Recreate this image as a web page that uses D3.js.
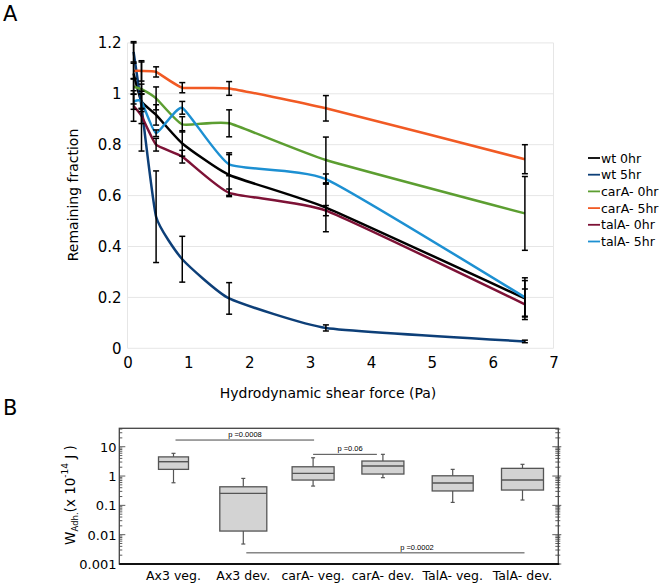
<!DOCTYPE html>
<html><head><meta charset="utf-8">
<script src="https://cdn.jsdelivr.net/npm/d3@7"></script>
<style>
html,body{margin:0;padding:0;background:#fff;}
svg{display:block;font-family:"DejaVu Sans",sans-serif;}
</style></head>
<body><svg id="c" width="672" height="586"></svg>
<script>
// ---------- Panel A data ----------
const shearForce = [0.1, 0.23, 0.47, 0.9, 1.67, 3.26, 6.53];
const seriesNames = ["wt 0hr", "wt 5hr", "carA- 0hr", "carA- 5hr", "talA- 0hr", "talA- 5hr"];
const wt0 = [1.08, 0.97, 0.917, 0.805, 0.681, 0.553, 0.196];
const wt5 = [1.165, 0.95, 0.517, 0.35, 0.196, 0.08, 0.027];
const carA0 = [1.028, 1.018, 0.982, 0.88, 0.884, 0.74, 0.53];
const carA5 = [1.09, 1.09, 1.086, 1.024, 1.021, 0.943, 0.743];
const talA0 = [0.952, 0.913, 0.80, 0.753, 0.611, 0.541, 0.173];
const talA5 = [0.969, 0.97, 0.845, 0.945, 0.723, 0.665, 0.20];
const wt0Err = [0.12, 0.03, 0.04, 0.05, 0.08, 0.095, 0.07];
const wt5Err = [0.04, 0.175, 0.18, 0.09, 0.062, 0.012, 0.005];
const carA0Err = [0.03, 0.02, 0.045, 0.03, 0.053, 0.09, 0.145];
const carA5Err = [0.03, 0.04, 0.02, 0.02, 0.027, 0.05, 0.057];
const talA0Err = [0.06, 0.03, 0.025, 0.025, 0.015, 0.02, 0.06];
const talA5Err = [0.03, 0.04, 0.013, 0.025, 0.045, 0.02, 0.077];
const xTicksA = [0, 1, 2, 3, 4, 5, 6, 7];
const yTicksA = [0, 0.2, 0.4, 0.6, 0.8, 1, 1.2];

// ---------- Panel B data ----------
const boxCategories = ["Ax3 veg.", "Ax3 dev.", "carA- veg.", "carA- dev.", "TalA- veg.", "TalA- dev."];
const whiskerLow = [0.59, 0.0048, 0.455, 0.88, 0.126, 0.152];
const quart1 = [1.69, 0.0133, 0.73, 1.17, 0.31, 0.333];
const medians = [3.08, 0.257, 1.23, 2.19, 0.577, 0.73];
const quart3 = [4.5, 0.43, 2.07, 3.25, 1.02, 1.83];
const whiskerHigh = [5.95, 0.83, 4.2, 5.5, 1.69, 2.51];
const yTicksB = [0.001, 0.01, 0.1, 1, 10];
const yTickLabelsB = ["0.001", "0.01", "0.1", "1", "10"];
const sigLabels = ["p =0.0008", "p =0.06", "p =0.0002"];
const sigLevels = [16.9, 5.5, 0.0024];

// ---------- drawing ----------
const svg = d3.select("#c");
const colors = ["#000000", "#0d3f78", "#5c9e31", "#f15a24", "#7d1236", "#1d90d2"];
const values = [wt0, wt5, carA0, carA5, talA0, talA5];
const errs = [wt0Err, wt5Err, carA0Err, carA5Err, talA0Err, talA5Err];

svg.append("text").attr("x", 3).attr("y", 21).attr("font-size", 21).text("A");
svg.append("text").attr("x", 3).attr("y", 415).attr("font-size", 21).text("B");

const x = d3.scaleLinear().domain([0, 7]).range([127.5, 553.5]);
const y = d3.scaleLinear().domain([0, 1.2]).range([348.3, 42.9]);

const gA = svg.append("g");
gA.selectAll("line.hg").data(yTicksA).join("line")
  .attr("x1", x(0)).attr("x2", x(7)).attr("y1", d => y(d)).attr("y2", d => y(d))
  .attr("stroke", "#e6e6e6").attr("stroke-width", 1);
gA.selectAll("line.vg").data([0, 7]).join("line")
  .attr("x1", d => x(d)).attr("x2", d => x(d)).attr("y1", y(0)).attr("y2", y(1.2))
  .attr("stroke", "#e6e6e6").attr("stroke-width", 1);

const yAx = gA.append("g").attr("transform", `translate(${x(0)},0)`)
  .call(d3.axisLeft(y).tickValues(yTicksA).tickSize(0).tickPadding(6).tickFormat(d3.format("~g")));
yAx.select(".domain").remove();
yAx.selectAll("text").attr("font-size", 15).attr("font-family", "DejaVu Sans").attr("fill", "#000");

const xAx = gA.append("g").attr("transform", `translate(0,${y(0)})`)
  .call(d3.axisBottom(x).tickValues(xTicksA).tickSize(0).tickPadding(9).tickFormat(d3.format("d")));
xAx.select(".domain").remove();
xAx.selectAll("text").attr("font-size", 15).attr("font-family", "DejaVu Sans").attr("fill", "#000");

gA.append("text").attr("x", 328).attr("y", 398).attr("text-anchor", "middle")
  .attr("font-size", 14).text("Hydrodynamic shear force (Pa)");
gA.append("text").attr("transform", "translate(78,195) rotate(-90)").attr("text-anchor", "middle")
  .attr("font-size", 14).text("Remaining fraction");

const line = d3.line().x((d, i) => x(shearForce[i])).y(d => y(d)).curve(d3.curveCardinal.tension(0.55));
values.forEach((vals, s) => {
  gA.append("path").attr("d", line(vals)).attr("fill", "none")
    .attr("stroke", colors[s]).attr("stroke-width", 2.5).attr("stroke-linejoin", "round");
});
values.forEach((vals, s) => {
  vals.forEach((v, i) => {
    const e = errs[s][i];
    const cx = x(shearForce[i]);
    const g = gA.append("g").attr("stroke", "#000").attr("stroke-width", 1.5);
    g.append("line").attr("x1", cx).attr("x2", cx).attr("y1", y(v + e)).attr("y2", y(v - e));
    g.append("line").attr("x1", cx - 3).attr("x2", cx + 3).attr("y1", y(v + e)).attr("y2", y(v + e));
    g.append("line").attr("x1", cx - 3).attr("x2", cx + 3).attr("y1", y(v - e)).attr("y2", y(v - e));
  });
});

const leg = svg.append("g");
seriesNames.forEach((n, i) => {
  const ly = 158 + i * 16.7;
  leg.append("line").attr("x1", 588).attr("x2", 600).attr("y1", ly).attr("y2", ly)
    .attr("stroke", colors[i]).attr("stroke-width", 1.8);
  leg.append("text").attr("x", 601).attr("y", ly + 4.5).attr("font-size", 12.5).text(n);
});

// ---------- Panel B ----------
const gB = svg.append("g");
const bLeft = 119.3, bRight = 558.3, bTop = 428.3, bBottom = 564;
const yb = d3.scaleLog().domain([0.001, 42.5]).range([bBottom, bTop]);
const xb = d3.scalePoint().domain(boxCategories).range([173.5, 522.5]);
const boxWidths = [30, 47, 42, 42, 41, 42];

const logTicks = [];
for (let e = -3; e <= 1; e++) for (let m = 1; m <= 9; m++) { const v = m * Math.pow(10, e); if (v <= 42.5) logTicks.push({ v, major: m === 1 }); }
logTicks.forEach(t => {
  const ty = yb(t.v);
  const len = t.major ? 6 : 3;
  gB.append("line").attr("x1", bLeft).attr("x2", bLeft + len).attr("y1", ty).attr("y2", ty).attr("stroke", "#333").attr("stroke-width", 0.8);
  gB.append("line").attr("x1", bRight).attr("x2", bRight + (t.major ? 3 : 2)).attr("y1", ty).attr("y2", ty).attr("stroke", "#333").attr("stroke-width", 0.8);
  gB.append("line").attr("x1", bRight).attr("x2", bRight - len).attr("y1", ty).attr("y2", ty).attr("stroke", "#333").attr("stroke-width", 0.8);
});
gB.append("rect").attr("x", bLeft).attr("y", bTop).attr("width", bRight - bLeft).attr("height", bBottom - bTop)
  .attr("fill", "none").attr("stroke", "#444").attr("stroke-width", 1.3);
gB.append("line").attr("x1", bLeft).attr("x2", bRight + 1).attr("y1", bBottom).attr("y2", bBottom).attr("stroke", "#111").attr("stroke-width", 2);

yTicksB.forEach((t, i) => {
  gB.append("text").attr("x", 116.5).attr("y", yb(t) + 5).attr("text-anchor", "end")
    .attr("font-size", 13).text(yTickLabelsB[i]);
});
boxCategories.forEach(c => {
  gB.append("text").attr("x", xb(c)).attr("y", 580).attr("text-anchor", "middle").attr("font-size", 12.5).text(c);
});

boxCategories.forEach((c, i) => {
  const cx = xb(c), w = boxWidths[i];
  const g = gB.append("g").attr("stroke", "#555").attr("stroke-width", 1.2);
  g.append("line").attr("x1", cx).attr("x2", cx).attr("y1", yb(quart3[i])).attr("y2", yb(whiskerHigh[i]));
  g.append("line").attr("x1", cx).attr("x2", cx).attr("y1", yb(quart1[i])).attr("y2", yb(whiskerLow[i]));
  g.append("line").attr("x1", cx - 2).attr("x2", cx + 2).attr("y1", yb(whiskerHigh[i])).attr("y2", yb(whiskerHigh[i]));
  g.append("line").attr("x1", cx - 2).attr("x2", cx + 2).attr("y1", yb(whiskerLow[i])).attr("y2", yb(whiskerLow[i]));
  g.append("rect").attr("x", cx - w / 2).attr("y", yb(quart3[i])).attr("width", w)
    .attr("height", yb(quart1[i]) - yb(quart3[i])).attr("fill", "#d3d3d3").attr("stroke", "#555").attr("stroke-width", 1.3);
  g.append("line").attr("x1", cx - w / 2).attr("x2", cx + w / 2).attr("y1", yb(medians[i])).attr("y2", yb(medians[i])).attr("stroke-width", 1.4);
});

const sigFrom = [xb(boxCategories[0]) + 2, xb(boxCategories[2]), xb(boxCategories[1]) + 3];
const sigTo = [xb(boxCategories[2]) + 1, xb(boxCategories[3]) - 6, xb(boxCategories[5]) + 2];
const sigTextX = [245, 350, 417];
sigLabels.forEach((lab, i) => {
  const ly = yb(sigLevels[i]);
  gB.append("line").attr("x1", sigFrom[i]).attr("x2", sigTo[i]).attr("y1", ly).attr("y2", ly).attr("stroke", "#333").attr("stroke-width", 0.9);
  gB.append("text").attr("x", sigTextX[i]).attr("y", ly - 3).attr("text-anchor", "middle")
    .attr("font-size", 7.5).attr("font-family", "Liberation Sans Narrow, Liberation Sans, sans-serif").text(lab);
});

const yt = gB.append("text").attr("transform", "translate(75,495) rotate(-90)").attr("text-anchor", "middle").attr("font-size", 13.5);
yt.append("tspan").text("W");
yt.append("tspan").attr("font-size", 8.5).attr("dy", 3).text("Adh.");
yt.append("tspan").attr("dy", -3).text("(x 10");
yt.append("tspan").attr("font-size", 9).attr("dy", -7).text("-14");
yt.append("tspan").attr("dy", 7).text(" J )");
</script></body></html>
